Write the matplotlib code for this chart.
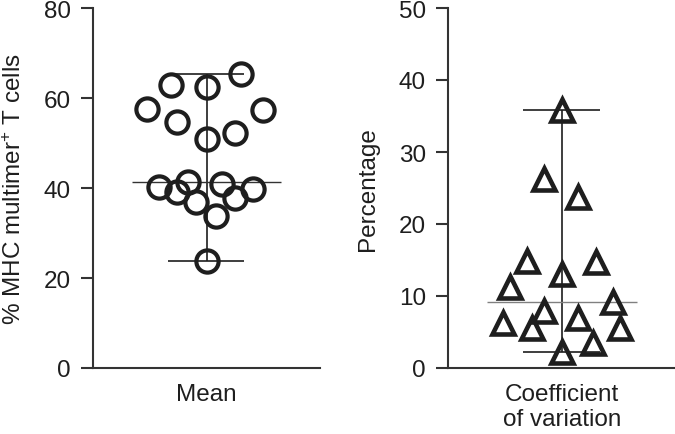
import matplotlib
matplotlib.use("Agg")
import matplotlib.pyplot as plt
import numpy as np

plt.rcParams['font.family'] = ['Liberation Sans', 'DejaVu Sans']
plt.rcParams['mathtext.default'] = 'regular'

# Mean (% MHC multimer+ T cells), one circle per donor
mean_x = [0.30, -0.31, 0.0, -0.52, 0.50, -0.26, 0.0, 0.25, -0.42, -0.16,
          -0.26, 0.14, 0.41, -0.09, 0.25, 0.08, 0.0]
mean_y = [65.3, 62.9, 62.4, 57.6, 57.4, 54.6, 50.9, 52.2, 40.2, 41.4,
          39.1, 41.0, 39.8, 36.9, 37.7, 33.7, 23.8]

# Coefficient of variation (%), one triangle per donor
cv_x = [0.0, -0.16, 0.14, -0.31, 0.30, 0.0, -0.46, -0.52, -0.26, -0.16,
        0.14, 0.45, 0.51, 0.27, 0.0]
cv_y = [35.8, 26.2, 23.7, 14.9, 14.7, 13.1, 11.2, 6.3, 5.6, 7.9,
        7.0, 9.1, 5.6, 3.5, 2.2]

mean_ticks = [0, 20, 40, 60, 80]
cv_ticks = [0, 10, 20, 30, 40, 50]

ink = '#1e1e1e'

fig = plt.figure(figsize=(6.75, 4.35), dpi=100)
ax1 = fig.add_axes([93 / 675, 66 / 435, 227 / 675, 360 / 435])
ax2 = fig.add_axes([448 / 675, 66 / 435, 228 / 675, 360 / 435])


def panel(ax, xs, ys, marker, ms, mew, ticks, xlabel, ylabel, lab_x, med_col):
    ys = np.array(ys)
    lo, hi, med = ys.min(), ys.max(), np.median(ys)
    ax.vlines(0, lo, hi, color=ink, lw=1.2, zorder=2)
    ax.hlines([lo, hi], -0.34, 0.33, color=ink, lw=1.2, zorder=2)
    ax.hlines(med, -0.66, 0.66, color=med_col, lw=1.0, zorder=2)
    ax.plot(xs, ys, linestyle='none', marker=marker, ms=ms, mew=mew,
            mec=ink, mfc='none', zorder=3, clip_on=False)
    ax.set_xlim(-1, 1)
    ax.set_ylim(ticks[0], ticks[-1])
    ax.set_yticks(ticks)
    ax.set_xticks([0])
    ax.set_xticklabels([xlabel], linespacing=1.15)
    ax.spines['top'].set_visible(False)
    ax.spines['right'].set_visible(False)
    for s in ('left', 'bottom'):
        ax.spines[s].set_linewidth(1.5)
        ax.spines[s].set_color('#333333')
    ax.tick_params(axis='y', length=9, width=1.5, color='#333333', pad=7,
                   labelsize=17.5, labelcolor=ink)
    ax.tick_params(axis='x', length=0, pad=11, labelsize=17.5, labelcolor=ink)
    ax.set_ylabel(ylabel, fontsize=17.5, color=ink, va='center')
    ax.yaxis.set_label_coords(lab_x, 0.566, transform=fig.transFigure)


panel(ax1, mean_x, mean_y, 'o', 16, 3.0, mean_ticks, 'Mean',
      '% MHC multimer$^{+}$ T cells', 15 / 675, '#333333')
panel(ax2, cv_x, cv_y, '^', 16, 3.3, cv_ticks, 'Coefficient\nof variation',
      'Percentage', 368 / 675, '#808080')

fig.savefig('out.png', dpi=100)
